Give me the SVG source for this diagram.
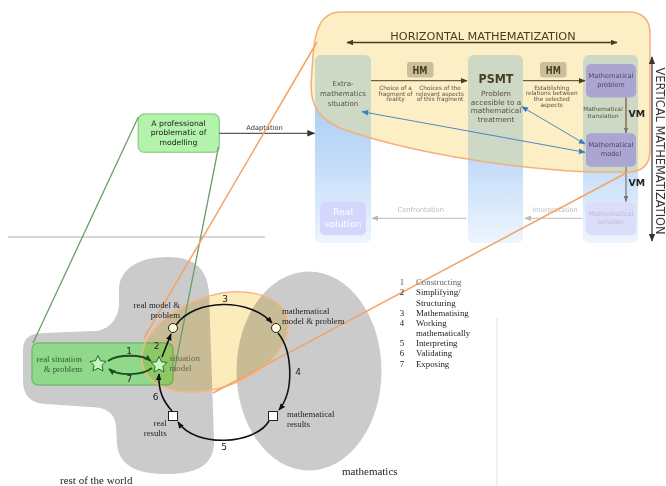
<svg xmlns="http://www.w3.org/2000/svg" width="666" height="486" viewBox="0 0 666 486">
<defs>
<style>
.sans{font-family:"DejaVu Sans","Liberation Sans",sans-serif}
.serif{font-family:"Liberation Serif","DejaVu Serif",serif}
.col{fill:url(#colg)}
.colc{fill:#cdd8c5}
.badge{fill:#c9c09b}
.bt{font-family:"DejaVu Sans",sans-serif;font-weight:bold;fill:#4b3f1f}
.box{fill:#aaa5d1}
.boxt{font-family:"DejaVu Sans",sans-serif;font-size:6.6px;fill:#4d4566;text-anchor:middle}
.boxl{font-family:"DejaVu Sans",sans-serif;font-size:6.6px;fill:#bdbdd3;text-anchor:middle}
.tiny{font-family:"DejaVu Sans",sans-serif;font-size:5.8px;fill:#5a5040;text-anchor:middle}
.cyc{fill:none;stroke:#111;stroke-width:1.6}
.num{font-family:"DejaVu Sans",sans-serif;font-size:9px;fill:#222;text-anchor:middle}
.lbl{font-family:"Liberation Serif",serif;font-size:8.8px;fill:#222}
.leg{font-family:"Liberation Serif",serif;font-size:8.8px;fill:#222}
</style>
<linearGradient id="colg" gradientUnits="userSpaceOnUse" x1="0" y1="95" x2="0" y2="243">
<stop offset="0" stop-color="#a8ccf4"/><stop offset="0.5" stop-color="#c6def9"/><stop offset="1" stop-color="#eef5fd"/>
</linearGradient>
<clipPath id="blobclip"><path d="M340,12 L628,12 Q650,12 650,34 L650,150 Q650,172 628,172 L590,172 C500,168 400,150 340,128 C318,118 311,105 311,85 L313,55 C315,28 322,12 340,12 Z"/></clipPath>
<marker id="ak" viewBox="0 0 10 10" refX="9" refY="5" markerWidth="7" markerHeight="7" markerUnits="userSpaceOnUse" orient="auto-start-reverse"><path d="M0,1 L10,5 L0,9 z" fill="#4a3c1e"/></marker>
<marker id="ab" viewBox="0 0 10 10" refX="9" refY="5" markerWidth="7" markerHeight="7" markerUnits="userSpaceOnUse" orient="auto-start-reverse"><path d="M0,1 L10,5 L0,9 z" fill="#3b7dc4"/></marker>
<marker id="ag" viewBox="0 0 10 10" refX="9" refY="5" markerWidth="7" markerHeight="7" markerUnits="userSpaceOnUse" orient="auto-start-reverse"><path d="M0,1 L10,5 L0,9 z" fill="#bbbbbb"/></marker>
<marker id="ad" viewBox="0 0 10 10" refX="9" refY="5" markerWidth="8" markerHeight="8" markerUnits="userSpaceOnUse" orient="auto-start-reverse"><path d="M0,1 L10,5 L0,9 z" fill="#333"/></marker>
<marker id="am" viewBox="0 0 10 10" refX="9" refY="5" markerWidth="6" markerHeight="6" markerUnits="userSpaceOnUse" orient="auto-start-reverse"><path d="M0,1 L10,5 L0,9 z" fill="#777"/></marker>
<marker id="ac" viewBox="0 0 10 10" refX="9" refY="5" markerWidth="7" markerHeight="7" markerUnits="userSpaceOnUse" orient="auto-start-reverse"><path d="M0,1 L10,5 L0,9 z" fill="#111"/></marker>
<marker id="ae" viewBox="0 0 10 10" refX="9" refY="5" markerWidth="7" markerHeight="7" markerUnits="userSpaceOnUse" orient="auto-start-reverse"><path d="M0,1 L10,5 L0,9 z" fill="#1c4d1c"/></marker>
<path id="star" d="M0,-8.5 L2.5,-3.2 L8,-2.6 L4,1.4 L5,7 L0,4.2 L-5,7 L-4,1.4 L-8,-2.6 L-2.5,-3.2 Z"/>
</defs>

<rect width="666" height="486" fill="#ffffff"/>

<g id="inset">
<rect x="315" y="55" width="56" height="188" rx="6" class="col"/>
<rect x="468" y="55" width="55" height="188" rx="6" class="col"/>
<rect x="583" y="55" width="55" height="188" rx="6" class="col"/>
<path d="M340,12 L628,12 Q650,12 650,34 L650,150 Q650,172 628,172 L590,172 C500,168 400,150 340,128 C318,118 311,105 311,85 L313,55 C315,28 322,12 340,12 Z" fill="#fcefc6"/>
<g clip-path="url(#blobclip)">
<rect x="315" y="55" width="56" height="188" rx="6" class="colc"/>
<rect x="468" y="55" width="55" height="188" rx="6" class="colc"/>
<rect x="583" y="55" width="55" height="188" rx="6" class="colc"/>
</g>
<path d="M340,12 L628,12 Q650,12 650,34 L650,150 Q650,172 628,172 L590,172 C500,168 400,150 340,128 C318,118 311,105 311,85 L313,55 C315,28 322,12 340,12 Z" fill="none" stroke="#f4b07a" stroke-width="1.5"/>
<text x="483" y="39.5" class="sans" font-size="11.3" fill="#4a3c1e" text-anchor="middle">HORIZONTAL MATHEMATIZATION</text>
<line x1="347" y1="42.5" x2="617" y2="42.5" stroke="#4a3c1e" stroke-width="1.4" marker-start="url(#ak)" marker-end="url(#ak)"/>
<line x1="652" y1="57" x2="652" y2="241" stroke="#333" stroke-width="1.2" marker-start="url(#ad)" marker-end="url(#ad)"/>
<text transform="translate(656,151) rotate(90)" class="sans" font-size="11.4" fill="#333" text-anchor="middle">VERTICAL MATHEMATIZATION</text>
</g>

<g id="extra-math">
<text class="sans" font-size="7" fill="#555548" text-anchor="middle"><tspan x="343" y="86">Extra-</tspan><tspan x="343" y="96">mathematics</tspan><tspan x="343" y="106">situation</tspan></text>
</g>
<g id="hm1">
<rect x="407" y="62" width="26.5" height="15.5" rx="3" class="badge"/>
<text x="420" y="74" class="bt" font-size="10" textLength="15" lengthAdjust="spacingAndGlyphs" text-anchor="middle">HM</text>
</g>
<g id="psmt">
<text x="496" y="83" class="bt" font-size="13" text-anchor="middle" textLength="35" lengthAdjust="spacingAndGlyphs">PSMT</text>
<text class="sans" font-size="7.3" fill="#5a5040" text-anchor="middle"><tspan x="496" y="96">Problem</tspan><tspan x="496" y="104.6">accesible to a</tspan><tspan x="496" y="113.2">mathematical</tspan><tspan x="496" y="121.8">treatment</tspan></text>
</g>
<g id="hm2">
<rect x="540" y="62" width="26.5" height="15.5" rx="3" class="badge"/>
<text x="553.3" y="74" class="bt" font-size="10" textLength="15" lengthAdjust="spacingAndGlyphs" text-anchor="middle">HM</text>
</g>
<g id="math-problem">
<rect x="586" y="64" width="50" height="33.5" rx="5" class="box"/>
<text class="boxt"><tspan x="611" y="78.3">Mathematical</tspan><tspan x="611" y="87.3">problem</tspan></text>
</g>
<g id="math-model">
<rect x="586" y="133.3" width="50" height="33.5" rx="5" class="box"/>
<text class="boxt"><tspan x="611" y="147.3">Mathematical</tspan><tspan x="611" y="155.8">model</tspan></text>
</g>
<g id="math-solution">
<rect x="586" y="201.7" width="50" height="33.5" rx="5" fill="#dcdcfb"/>
<text class="boxl"><tspan x="611" y="215.5">Mathematical</tspan><tspan x="611" y="224">solution</tspan></text>
</g>
<g id="real-solution">
<rect x="320" y="201.7" width="46" height="33.5" rx="5" fill="#d5d6fb"/>
<text class="sans" font-size="9.4" fill="#ffffff" text-anchor="middle"><tspan x="343" y="214.5">Real</tspan><tspan x="343" y="226.5">solution</tspan></text>
</g>
<g id="professional">
<rect x="138.3" y="114" width="81" height="38.3" rx="6" fill="#b4f3ab" stroke="#94d58d" stroke-width="1.5"/>
<text class="sans" font-size="7.7" fill="#1a1a1a" text-anchor="middle"><tspan x="178.5" y="125.5">A professional</tspan><tspan x="178.5" y="135">problematic of</tspan><tspan x="178.5" y="144.5">modelling</tspan></text>
</g>

<g id="connectors-top">
<line x1="371" y1="80.7" x2="467" y2="80.7" stroke="#4a3c1e" stroke-width="1" marker-end="url(#ak)"/>
<line x1="523" y1="80.7" x2="585" y2="80.7" stroke="#4a3c1e" stroke-width="1" marker-end="url(#ak)"/>
<line x1="626" y1="97.5" x2="626" y2="133" stroke="#6b5a2e" stroke-width="1.2" marker-end="url(#am)"/>
<line x1="626" y1="167" x2="626" y2="201.5" stroke="#777" stroke-width="1.2" marker-end="url(#am)"/>
<line x1="362" y1="111.7" x2="585" y2="152.3" stroke="#3b7dc4" stroke-width="0.9" marker-start="url(#ab)" marker-end="url(#ab)"/>
<line x1="521.7" y1="106.7" x2="585" y2="144" stroke="#3b7dc4" stroke-width="0.9" marker-start="url(#ab)" marker-end="url(#ab)"/>
<line x1="466.7" y1="218.3" x2="372" y2="218.3" stroke="#bbbbbb" stroke-width="1" marker-end="url(#ag)"/>
<line x1="582.7" y1="218.3" x2="525" y2="218.3" stroke="#bbbbbb" stroke-width="1" marker-end="url(#ag)"/>
<line x1="219.3" y1="133.3" x2="314.5" y2="133.3" stroke="#333" stroke-width="1" marker-end="url(#ad)"/>
<text class="tiny"><tspan x="395.5" y="90">Choice of a</tspan><tspan x="395.5" y="95.5">fragment of</tspan><tspan x="395.5" y="101">reality</tspan></text>
<text class="tiny"><tspan x="440" y="90">Choices of the</tspan><tspan x="440" y="95.5">relevant aspects</tspan><tspan x="440" y="101">of this fragment</tspan></text>
<text class="tiny"><tspan x="551.7" y="89.5">Establishing</tspan><tspan x="551.7" y="95.2">relations between</tspan><tspan x="551.7" y="100.9">the selected</tspan><tspan x="551.7" y="106.6">aspects</tspan></text>
<text class="tiny"><tspan x="603" y="111.3">Mathematical</tspan><tspan x="603" y="118">translation</tspan></text>
<text x="636.7" y="117" class="bt" font-size="9.4" text-anchor="middle" style="fill:#222">VM</text>
<text x="636.7" y="185.5" class="bt" font-size="9.4" text-anchor="middle" style="fill:#222">VM</text>
<text x="420.7" y="212" class="sans" font-size="6.8" fill="#bbbbbb" text-anchor="middle">Confrontation</text>
<text x="555" y="211.5" class="sans" font-size="6.6" fill="#bbbbbb" text-anchor="middle">Interpretation</text>
<text x="264.5" y="129.5" class="sans" font-size="6.7" fill="#333" text-anchor="middle">Adaptation</text>
</g>

<line x1="8" y1="237" x2="265" y2="237" stroke="#b0b0b0" stroke-width="1"/>
<line x1="497" y1="318" x2="497" y2="486" stroke="#e2e2e2" stroke-width="1"/>

<g id="world">
<path d="M119,292 C118,268 140,257 168,257 C196,257 207,270 209,292 L214,440 C215,466 195,474 168,474 C140,474 120,468 117,445 L116,425 C114,412 105,407 90,407 L45,404 C30,403 23,395 23,380 L23,350 C23,338 30,333 45,333 L95,331 C110,330 118,318 119,305 Z" fill="#cbcbcb"/>
<text x="60" y="483.5" class="serif" font-size="11" fill="#222">rest of the world</text>
</g>
<g id="mathematics">
<ellipse cx="309" cy="371" rx="72.5" ry="99.5" fill="#cbcbcb"/>
<text x="342" y="474.5" class="serif" font-size="11" fill="#222">mathematics</text>
</g>
<g id="real-situation">
<rect x="32" y="343" width="141" height="42" rx="6" fill="#90d88a" stroke="#78bb72" stroke-width="1.5"/>
<text class="serif" font-size="8.8" fill="#2e5e2e" text-anchor="end"><tspan x="82" y="362">real situation</tspan><tspan x="82" y="372">&amp; problem</tspan></text>
</g>
<g id="situation-model-ellipse">
<ellipse cx="215" cy="342" rx="76" ry="45.5" transform="rotate(-20 215 342)" fill="#fcecbc" style="mix-blend-mode:multiply"/>
<ellipse cx="215" cy="342" rx="76" ry="45.5" transform="rotate(-20 215 342)" fill="none" stroke="#f6b68a" stroke-width="1.5"/>
</g>

<g id="overlay-lines">
<line x1="138.3" y1="117" x2="33" y2="343" stroke="#6a9e6a" stroke-width="1.3"/>
<line x1="218.5" y1="147" x2="174" y2="372" stroke="#6a9e6a" stroke-width="1.3"/>
<line x1="317" y1="42" x2="144" y2="338" stroke="#f5a363" stroke-width="1.5"/>
<line x1="628" y1="172" x2="213" y2="393" stroke="#f5a363" stroke-width="1.5"/>
</g>

<g id="cycle-connectors">
<path d="M108,361 C118,354 142,354 151,361" fill="none" stroke="#1c4d1c" stroke-width="1.8" marker-end="url(#ae)"/>
<path d="M152,368 C142,376 118,376 109,369" fill="none" stroke="#1c4d1c" stroke-width="1.8" marker-end="url(#ae)"/>
<path d="M162,357 L171,334" class="cyc" marker-end="url(#ac)"/>
<path d="M176,325 C195,298 250,298 272,323" class="cyc" marker-end="url(#ac)"/>
<path d="M278,333 C292,350 295,390 279,410" class="cyc" marker-end="url(#ac)"/>
<path d="M269,421 C255,445 195,448 178,422" class="cyc" marker-end="url(#ac)"/>
<path d="M172,411 C164,402 158,392 159,374" class="cyc" marker-end="url(#ac)"/>
<text x="129" y="353.5" class="num">1</text>
<text x="129.3" y="382" class="num">7</text>
<text x="156.7" y="348.5" class="num">2</text>
<text x="225" y="301.5" class="num">3</text>
<text x="298" y="375" class="num">4</text>
<text x="224" y="449.5" class="num">5</text>
<text x="155.5" y="400" class="num">6</text>
</g>

<g id="star-real"><use href="#star" x="98" y="364" fill="#c6f5bd" stroke="#2b6b2b" stroke-width="1"/></g>
<g id="star-model"><use href="#star" x="159" y="365" fill="#c6f5bd" stroke="#2b6b2b" stroke-width="1"/>
<text class="serif" font-size="8.8" fill="#66664a"><tspan x="169.5" y="361">situation</tspan><tspan x="169.5" y="371">model</tspan></text></g>
<g id="real-model"><circle cx="173" cy="328" r="4.5" fill="#fffbe0" stroke="#222" stroke-width="1"/>
<text class="lbl" text-anchor="end"><tspan x="180" y="308">real model &amp;</tspan><tspan x="180" y="318">problem</tspan></text></g>
<g id="math-model-problem"><circle cx="276" cy="328" r="4.5" fill="#fffbe0" stroke="#222" stroke-width="1"/>
<text class="lbl"><tspan x="282" y="313.5">mathematical</tspan><tspan x="282" y="324">model &amp; problem</tspan></text></g>
<g id="math-results"><rect x="268.5" y="411.5" width="9" height="9" fill="#fff" stroke="#222" stroke-width="1"/>
<text class="lbl"><tspan x="287" y="417">mathematical</tspan><tspan x="287" y="427">results</tspan></text></g>
<g id="real-results"><rect x="168.5" y="411.5" width="9" height="9" fill="#fff" stroke="#222" stroke-width="1"/>
<text class="lbl" text-anchor="end"><tspan x="166.7" y="426">real</tspan><tspan x="166.7" y="436">results</tspan></text></g>

<g id="legend" class="leg">
<text x="402" y="285" text-anchor="middle" style="fill:#555">1</text><text x="416" y="285" style="fill:#666">Constructing</text>
<text x="402" y="295" text-anchor="middle">2</text><text x="416" y="295">Simplifying/</text>
<text x="416" y="305.5">Structuring</text>
<text x="402" y="315.5" text-anchor="middle">3</text><text x="416" y="315.5">Mathematising</text>
<text x="402" y="325.5" text-anchor="middle">4</text><text x="416" y="325.5">Working</text>
<text x="416" y="335.5">mathematically</text>
<text x="402" y="346" text-anchor="middle">5</text><text x="416" y="346">Interpreting</text>
<text x="402" y="356" text-anchor="middle">6</text><text x="416" y="356">Validating</text>
<text x="402" y="367" text-anchor="middle">7</text><text x="416" y="367">Exposing</text>
</g>
</svg>
